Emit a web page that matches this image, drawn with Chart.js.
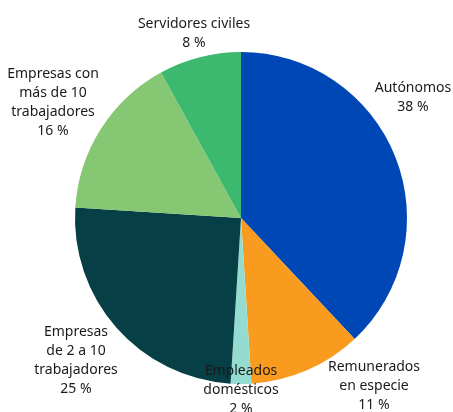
<!DOCTYPE html>
<html>
<head>
<meta charset="utf-8">
<script src="https://cdn.jsdelivr.net/npm/chart.js@4"></script>
<style>
  html, body { margin: 0; padding: 0; background: #fff; }
  #wrap { width: 453px; height: 412px; position: relative; }
</style>
</head>
<body>
<div id="wrap"><canvas id="myChart"></canvas></div>
<script>
const categories = [
  ["Autónomos"],
  ["Remunerados", "en especie"],
  ["Empleados", "domésticos"],
  ["Empresas", "de 2 a 10", "trabajadores"],
  ["Empresas con", "más de 10", "trabajadores"],
  ["Servidores civiles"]
];
const shares = [38, 11, 2, 25, 16, 8];
const colors = ["#0047b6", "#f99b1e", "#95dcd0", "#073f47", "#86c774", "#3cb96e"];

// label centre offsets from the pie centre (px), first line baseline-middle
const labelPos = [
  [172, -130],
  [133, 149],
  [0, 153],
  [-165, 114],
  [-188, -144],
  [-47, -194]
];

const lineH = 19;

const outsideLabels = {
  id: 'outsideLabels',
  afterDatasetsDraw(chart) {
    const ctx = chart.ctx;
    const arc = chart.getDatasetMeta(0).data[0];
    const cx = arc.x, cy = arc.y;
    ctx.save();
    ctx.font = "14px 'Noto Sans', sans-serif";
    ctx.fillStyle = "#1a1a1a";
    ctx.textAlign = "center";
    ctx.textBaseline = "middle";
    categories.forEach((lines, i) => {
      const all = lines.concat([shares[i] + " %"]);
      all.forEach((t, j) => {
        ctx.fillText(t, cx + labelPos[i][0], cy + labelPos[i][1] + j * lineH);
      });
    });
    ctx.restore();
  }
};

new Chart(document.getElementById('myChart'), {
  type: 'pie',
  data: {
    labels: categories.map(c => c.join(' ')),
    datasets: [{
      data: shares,
      backgroundColor: colors,
      borderWidth: 0
    }]
  },
  options: {
    responsive: true,
    maintainAspectRatio: false,
    animation: false,
    layout: {
      padding: { top: 52, bottom: 28, left: 75, right: 46 }
    },
    plugins: {
      legend: { display: false },
      tooltip: { enabled: false }
    }
  },
  plugins: [outsideLabels]
});
</script>
</body>
</html>
